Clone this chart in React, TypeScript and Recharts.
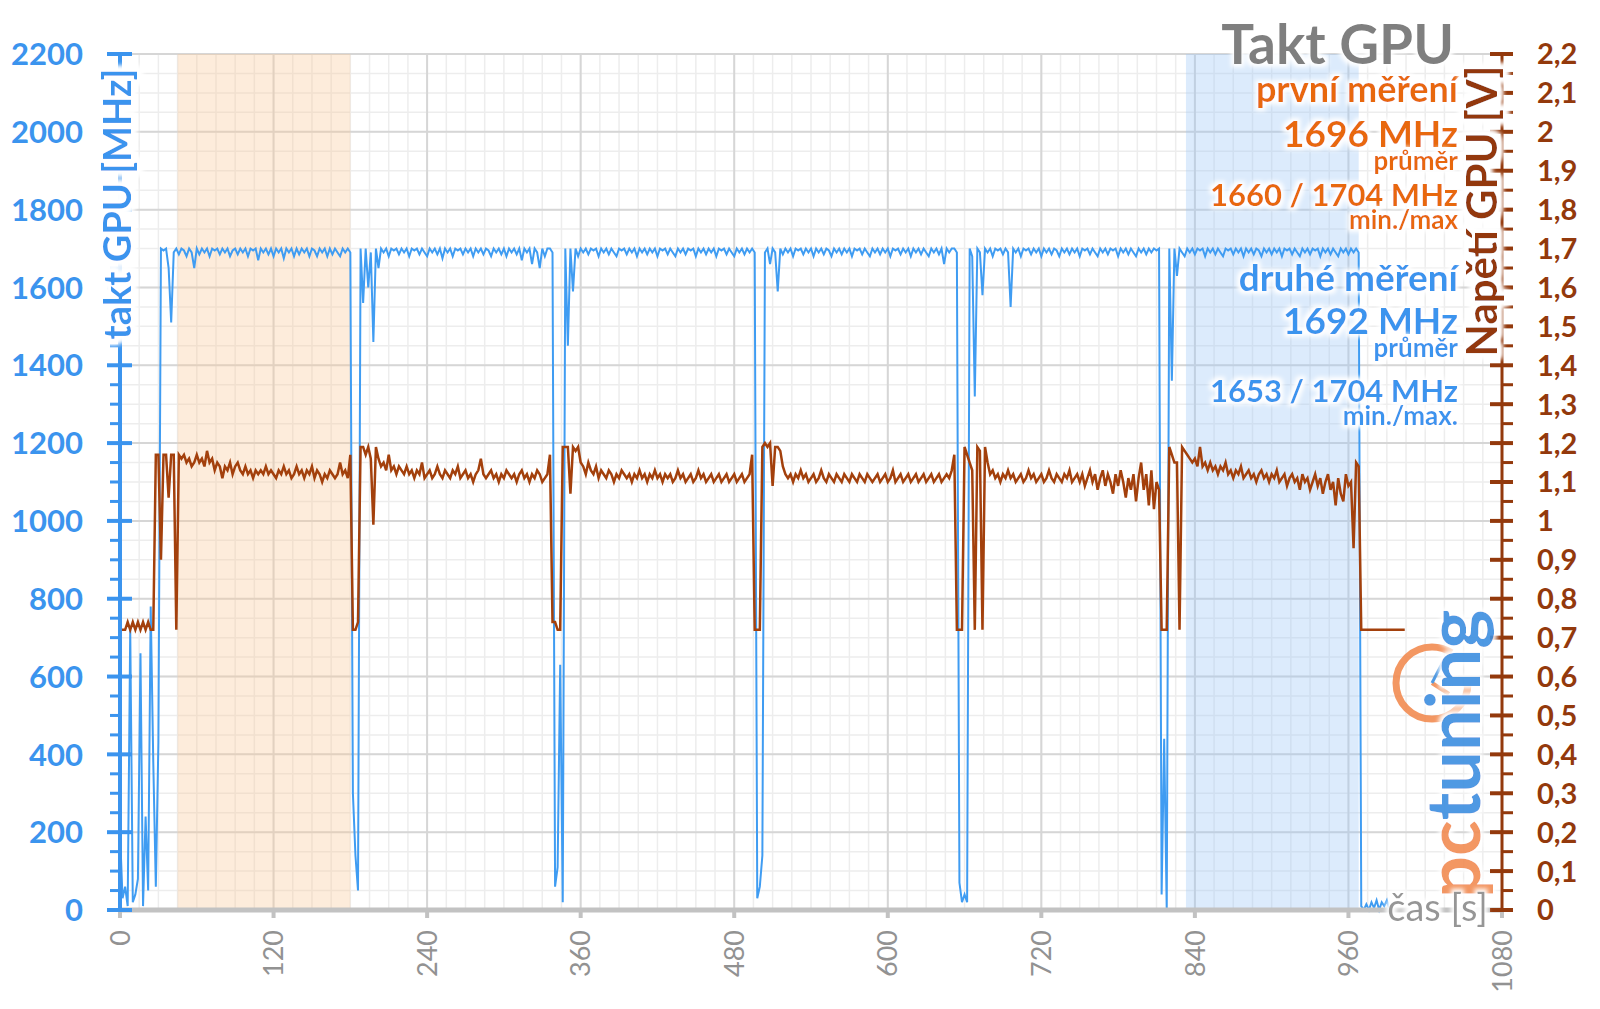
import React from 'react'
import {
  ComposedChart,
  Line,
  XAxis,
  YAxis,
  CartesianGrid,
  ReferenceArea,
} from 'recharts'

// samples every 2 s, starting at t = 0
const SAMPLE_STEP = 2

// GPU clock [MHz]
const clockIdle = [200, 30, 60, 10, 720, 20, 40, 80, 660, 10, 240, 50, 780, 380, 60, 430] // 0–30 s
const clockRun1 = [
  1700, 1695, 1700, 1650, 1510, 1690, 1700, 1685, 1700, 1695,
  1680, 1700, 1690, 1650, 1700, 1685, 1700, 1690, 1700, 1680,
  1700, 1695, 1700, 1685, 1700, 1690, 1700, 1680, 1695, 1700,
  1685, 1700, 1690, 1700, 1680, 1700, 1695, 1700, 1670, 1700,
  1690, 1700, 1685, 1700, 1680, 1700, 1690, 1700, 1675, 1700,
  1690, 1700, 1680, 1700, 1685, 1700, 1690, 1700, 1680, 1700,
  1695, 1680, 1700, 1690, 1700, 1680, 1700, 1685, 1700, 1690,
  1680, 1700, 1690, 1700, 1690,
] // 32–180 s
const clockRun2 = [
  300, 140, 50, 1700, 1560, 1700, 1600, 1690, 1460, 1700,
  1650, 1700, 1690, 1700, 1680, 1700, 1695, 1700, 1685, 1700,
  1690, 1700, 1680, 1700, 1695, 1700, 1685, 1700, 1690, 1680,
  1700, 1690, 1700, 1685, 1700, 1675, 1700, 1690, 1700, 1680,
  1700, 1695, 1700, 1685, 1700, 1690, 1700, 1680, 1700, 1690,
  1700, 1685, 1700, 1695, 1680, 1700, 1690, 1700, 1685, 1700,
  1680, 1700, 1690, 1700, 1685, 1700, 1670, 1700, 1690, 1700,
  1660, 1700, 1690, 1650, 1700, 1680, 1700, 1700,
] // 182–336 s
const clockRun3 = [
  1690, 60, 110, 630, 20, 1700, 1450, 1700, 1590, 1700,
  1680, 1700, 1690, 1700, 1685, 1700, 1695, 1700, 1680, 1700,
  1690, 1700, 1685, 1700, 1690, 1680, 1700, 1695, 1700, 1685,
  1700, 1690, 1700, 1680, 1700, 1690, 1700, 1685, 1700, 1690,
  1700, 1680, 1700, 1695, 1700, 1685, 1700, 1690, 1680, 1700,
  1690, 1700, 1685, 1700, 1695, 1700, 1680, 1700, 1690, 1700,
  1685, 1700, 1690, 1700, 1680, 1700, 1695, 1700, 1685, 1700,
  1690, 1680, 1700, 1690, 1700, 1685, 1700, 1690, 1700,
] // 338–494 s
const clockRun4 = [
  1690, 30, 60, 140, 1690, 1700, 1660, 1700, 1690, 1590,
  1700, 1685, 1700, 1690, 1700, 1680, 1700, 1695, 1700, 1685,
  1700, 1690, 1700, 1680, 1700, 1690, 1700, 1685, 1700, 1695,
  1680, 1700, 1690, 1700, 1685, 1700, 1690, 1700, 1680, 1700,
  1695, 1700, 1685, 1700, 1690, 1680, 1700, 1690, 1700, 1685,
  1700, 1690, 1700, 1680, 1700, 1695, 1700, 1685, 1700, 1690,
  1700, 1680, 1700, 1690, 1700, 1685, 1700, 1690, 1680, 1700,
  1690, 1700, 1685, 1700, 1660, 1700, 1690, 1700, 1700,
] // 496–652 s
const clockRun5 = [
  1690, 70, 20, 40, 20, 1700, 1680, 1320, 1700, 1690,
  1580, 1700, 1690, 1700, 1680, 1700, 1695, 1700, 1685, 1700,
  1690, 1550, 1700, 1690, 1700, 1680, 1700, 1695, 1700, 1685,
  1700, 1690, 1700, 1680, 1700, 1690, 1700, 1685, 1700, 1695,
  1680, 1700, 1690, 1700, 1685, 1700, 1690, 1700, 1680, 1700,
  1695, 1700, 1685, 1700, 1690, 1680, 1700, 1690, 1700, 1685,
  1700, 1695, 1700, 1680, 1700, 1690, 1700, 1685, 1700, 1690,
  1680, 1700, 1690, 1700, 1685, 1700, 1690, 1700, 1695,
] // 654–810 s
const clockRun6 = [
  1700, 40, 440, 0, 1700, 1360, 1700, 1630, 1700, 1690,
  1680, 1700, 1690, 1700, 1685, 1700, 1695, 1700, 1680, 1700,
  1690, 1700, 1685, 1700, 1690, 1680, 1700, 1695, 1700, 1685,
  1700, 1690, 1700, 1680, 1700, 1690, 1700, 1685, 1700, 1695,
  1680, 1700, 1690, 1700, 1685, 1700, 1690, 1700, 1680, 1700,
  1695, 1700, 1685, 1700, 1690, 1680, 1700, 1690, 1700, 1685,
  1700, 1695, 1700, 1680, 1700, 1690, 1700, 1685, 1700, 1690,
  1680, 1700, 1690, 1700, 1685, 1700, 1690, 1700, 1690,
] // 812–968 s
const clockTail = [10, 0, 15, 0, 20, 5, 25, 0, 20, 10, 25, 0] // 970–992 s

// GPU voltage [V]
const voltIdle = [0.72, 0.72, 0.72, 0.74, 0.72, 0.74, 0.72, 0.74, 0.72, 0.74, 0.72, 0.74, 0.72, 0.72, 1.17, 1.17]
const voltRun1 = [
  0.9, 1.17, 1.17, 1.06, 1.17, 1.17, 0.72, 1.17, 1.16, 1.17,
  1.15, 1.16, 1.14, 1.15, 1.17, 1.15, 1.16, 1.14, 1.18, 1.15,
  1.16, 1.13, 1.15, 1.14, 1.11, 1.14, 1.13, 1.15, 1.12, 1.14,
  1.15, 1.13, 1.12, 1.14, 1.12, 1.13, 1.11, 1.13, 1.12, 1.13,
  1.12, 1.14, 1.12, 1.13, 1.12, 1.11, 1.13, 1.12, 1.14, 1.12,
  1.13, 1.11, 1.12, 1.14, 1.12, 1.13, 1.11, 1.13, 1.12, 1.14,
  1.11, 1.13, 1.12, 1.1, 1.12, 1.11, 1.13, 1.12, 1.11, 1.12,
  1.15, 1.12, 1.13, 1.11, 1.17,
]
const voltRun2 = [
  0.72, 0.72, 0.74, 1.19, 1.19, 1.17, 1.19, 1.16, 0.99, 1.19,
  1.16, 1.14, 1.15, 1.13, 1.17, 1.13, 1.14, 1.12, 1.14, 1.13,
  1.12, 1.14, 1.12, 1.13, 1.11, 1.13, 1.12, 1.15, 1.11, 1.12,
  1.13, 1.11, 1.12, 1.14, 1.12, 1.11, 1.13, 1.12, 1.11, 1.13,
  1.12, 1.14, 1.11, 1.12, 1.13, 1.11, 1.12, 1.1, 1.12, 1.13,
  1.16, 1.12, 1.11, 1.12, 1.13, 1.11, 1.12, 1.1, 1.12, 1.11,
  1.13, 1.12, 1.11, 1.12, 1.1, 1.12, 1.13, 1.11, 1.12, 1.1,
  1.12, 1.11, 1.13, 1.12, 1.1, 1.11, 1.12, 1.17,
]
const voltRun3 = [
  0.74, 0.74, 0.72, 0.72, 1.19, 1.19, 1.19, 1.07, 1.19, 1.18,
  1.19, 1.15, 1.14, 1.12, 1.15, 1.13, 1.12, 1.14, 1.11, 1.13,
  1.12, 1.11, 1.13, 1.12, 1.1, 1.12, 1.11, 1.13, 1.12, 1.11,
  1.12, 1.1, 1.12, 1.11, 1.13, 1.11, 1.12, 1.1, 1.12, 1.11,
  1.13, 1.11, 1.12, 1.1, 1.12, 1.11, 1.12, 1.1, 1.11, 1.13,
  1.11, 1.12, 1.1, 1.11, 1.12, 1.1, 1.11, 1.13, 1.11, 1.12,
  1.1, 1.11, 1.12, 1.1, 1.11, 1.12, 1.1, 1.11, 1.12, 1.1,
  1.11, 1.12, 1.1, 1.11, 1.12, 1.1, 1.11, 1.12, 1.17,
]
const voltRun4 = [
  0.72, 0.72, 0.72, 1.19, 1.2, 1.19, 1.2, 1.09, 1.19, 1.19,
  1.18, 1.14, 1.12, 1.11, 1.12, 1.1, 1.12, 1.11, 1.13, 1.11,
  1.12, 1.1, 1.11, 1.12, 1.1, 1.11, 1.13, 1.11, 1.1, 1.12,
  1.11, 1.1, 1.12, 1.11, 1.1, 1.12, 1.11, 1.1, 1.12, 1.11,
  1.1, 1.12, 1.11, 1.1, 1.12, 1.11, 1.1, 1.11, 1.12, 1.1,
  1.11, 1.12, 1.1, 1.11, 1.13, 1.1, 1.11, 1.12, 1.1, 1.11,
  1.12, 1.1, 1.11, 1.12, 1.1, 1.11, 1.12, 1.1, 1.11, 1.12,
  1.1, 1.11, 1.12, 1.1, 1.11, 1.12, 1.11, 1.13, 1.17,
]
const voltRun5 = [
  0.72, 0.72, 0.72, 1.19, 1.17, 1.15, 1.13, 0.72, 1.19, 1.18,
  0.72, 1.19, 1.15, 1.12, 1.13, 1.11, 1.12, 1.1, 1.12, 1.11,
  1.13, 1.11, 1.12, 1.1, 1.11, 1.12, 1.1, 1.11, 1.13, 1.11,
  1.12, 1.1, 1.11, 1.12, 1.1, 1.11, 1.13, 1.11, 1.1, 1.12,
  1.11, 1.1, 1.12, 1.11, 1.13, 1.1, 1.11, 1.12, 1.1, 1.12,
  1.09, 1.11, 1.13, 1.1, 1.12, 1.08, 1.11, 1.13, 1.09, 1.12,
  1.1, 1.07, 1.12, 1.09, 1.13, 1.1, 1.06, 1.11, 1.08, 1.12,
  1.05, 1.11, 1.15, 1.08, 1.12, 1.04, 1.13, 1.03, 1.1,
]
const voltRun6 = [
  1.08, 0.72, 0.72, 0.72, 1.19, 1.17, 1.15, 1.15, 0.72, 1.19,
  1.18, 1.17, 1.16, 1.15, 1.16, 1.14, 1.19, 1.14, 1.15, 1.13,
  1.15, 1.13, 1.14, 1.12, 1.14, 1.13, 1.15, 1.12, 1.13, 1.11,
  1.13, 1.12, 1.14, 1.11, 1.12, 1.13, 1.11, 1.12, 1.1, 1.12,
  1.13, 1.11, 1.12, 1.1, 1.12, 1.11, 1.13, 1.1, 1.11, 1.12,
  1.09, 1.11, 1.12, 1.1, 1.11, 1.08, 1.12, 1.1, 1.11, 1.08,
  1.1, 1.12, 1.09, 1.11, 1.07, 1.1, 1.12, 1.08, 1.1, 1.04,
  1.11, 1.07, 1.05, 1.12, 1.09, 1.1, 0.93, 1.15, 1.14,
]
const voltTail = [0.72, 0.72, 0.72, 0.72, 0.72, 0.72, 0.72, 0.72, 0.72, 0.72, 0.72, 0.72, 0.72, 0.72, 0.72, 0.72, 0.72, 0.72]

const clockMHz = [...clockIdle, ...clockRun1, ...clockRun2, ...clockRun3, ...clockRun4, ...clockRun5, ...clockRun6, ...clockTail]
const voltage = [...voltIdle, ...voltRun1, ...voltRun2, ...voltRun3, ...voltRun4, ...voltRun5, ...voltRun6, ...voltTail]

const timeTicks = [0, 120, 240, 360, 480, 600, 720, 840, 960, 1080]
const clockTicks = [0, 200, 400, 600, 800, 1000, 1200, 1400, 1600, 1800, 2000, 2200]
const voltTicks = [0, 0.1, 0.2, 0.3, 0.4, 0.5, 0.6, 0.7, 0.8, 0.9, 1, 1.1, 1.2, 1.3, 1.4, 1.5, 1.6, 1.7, 1.8, 1.9, 2, 2.1, 2.2]

// highlighted windows [s]
const firstRun = [45, 180]
const secondRun = [833, 968]

const BLUE = '#3b94ee'
const BLUE_LINE = '#3f9cf2'
const BROWN = '#93390c'
const BROWN_LINE = '#a3400c'
const ORANGE = '#e8680f'
const FONT = "Lato, 'Open Sans', sans-serif"

const data = voltage.map((v, i) => ({
  t: i * SAMPLE_STEP,
  mhz: i < clockMHz.length ? clockMHz[i] : null,
  v,
}))

const minorTimes = Array.from({ length: 73 }, (_, i) => i * 15)
const minorClock = Array.from({ length: 45 }, (_, i) => i * 50)
const minorVolt = Array.from({ length: 45 }, (_, i) => Math.round(i * 5) / 100)
const isMajorVolt = (v: number) => voltTicks.some((m) => Math.abs(m - v) < 1e-6)

function TimeTick(props: any) {
  const { x, payload } = props
  const y = 930
  return (
    <text
      x={x}
      y={y}
      dy="0.36em"
      transform={`rotate(-90 ${x} ${y})`}
      textAnchor="end"
      fontFamily={FONT}
      fontSize={27}
      fill="#929292"
    >
      {payload.value}
    </text>
  )
}

function ClockTick(props: any) {
  const { y, payload } = props
  const v = payload.value
  const major = clockTicks.includes(v)
  return (
    <g>
      <line x1={major ? 107 : 110} x2={major ? 132 : 120} y1={y} y2={y} stroke={BLUE} strokeWidth={major ? 4 : 3} />
      {major && (
        <text x={83} y={y} dy="0.36em" textAnchor="end" fontFamily={FONT} fontWeight={700} fontSize={31} fill={BLUE}>
          {v}
        </text>
      )}
    </g>
  )
}

function VoltTick(props: any) {
  const { y, payload } = props
  const v = payload.value
  const major = isMajorVolt(v)
  return (
    <g>
      <line x1={major ? 1490 : 1502} x2={1513} y1={y} y2={y} stroke={BROWN} strokeWidth={major ? 4 : 3} />
      {major && (
        <text x={1537} y={y} dy="0.36em" textAnchor="start" fontFamily={FONT} fontWeight={700} fontSize={29} fill={BROWN}>
          {String(Math.round(v * 10) / 10).replace('.', ',')}
        </text>
      )}
    </g>
  )
}

function Overlay() {
  const t = (x: number, y: number, size: number, color: string, text: string, weight = 700) => (
    <text x={x} y={y} textAnchor="end" fontFamily={FONT} fontWeight={weight} fontSize={size} fill={color} filter="url(#glow)">
      {text}
    </text>
  )
  return (
    <svg width={1600} height={1009} style={{ position: 'absolute', left: 0, top: 0, pointerEvents: 'none' }}>
      <defs>
        <filter id="glow" x="-20%" y="-30%" width="140%" height="160%">
          <feMorphology in="SourceAlpha" operator="dilate" radius="3" result="d" />
          <feGaussianBlur in="d" stdDeviation="2" result="b" />
          <feFlood floodColor="#ffffff" />
          <feComposite in2="b" operator="in" result="g" />
          <feMerge>
            <feMergeNode in="g" />
            <feMergeNode in="SourceGraphic" />
          </feMerge>
        </filter>
        <filter id="glowWide" x="-20%" y="-40%" width="140%" height="180%">
          <feMorphology in="SourceAlpha" operator="dilate" radius="5" result="d" />
          <feGaussianBlur in="d" stdDeviation="2.5" result="b" />
          <feFlood floodColor="#ffffff" />
          <feComposite in2="b" operator="in" result="g" />
          <feMerge>
            <feMergeNode in="g" />
            <feMergeNode in="g" />
            <feMergeNode in="SourceGraphic" />
          </feMerge>
        </filter>
      </defs>
      {t(1454, 64, 55, '#7f7f7f', 'Takt GPU')}
      {t(1458, 102, 36, ORANGE, 'první měření')}
      {t(1458, 147, 37, ORANGE, '1696 MHz')}
      {t(1458, 170, 26, ORANGE, 'průměr')}
      {t(1458, 206, 31, ORANGE, '1660 / 1704 MHz')}
      {t(1458, 229, 26, ORANGE, 'min./max')}
      {t(1458, 291, 37, BLUE, 'druhé měření')}
      {t(1458, 334, 37, BLUE, '1692 MHz')}
      {t(1458, 357, 26, BLUE, 'průměr')}
      {t(1458, 402, 31, BLUE, '1653 / 1704 MHz')}
      {t(1458, 425, 26, BLUE, 'min./max.')}

      <text x={131} y={204} transform="rotate(-90 131 204)" textAnchor="middle" fontFamily={FONT} fontWeight={700} fontSize={38} fill={BLUE} filter="url(#glowWide)">
        takt GPU [MHz]
      </text>
      <text x={1497} y={211} transform="rotate(-90 1497 211)" textAnchor="middle" fontFamily={FONT} fontWeight={700} fontSize={42} fill={BROWN} filter="url(#glowWide)">
        Napětí GPU [V]
      </text>

      <g opacity={0.9}>
        <circle cx={1432} cy={683} r={36} fill="none" stroke="#f28c52" strokeWidth={7} strokeDasharray="190 36" />
        <line x1={1432} y1={683} x2={1449} y2={694} stroke="#f28c52" strokeWidth={4} />
        <line x1={1432} y1={683} x2={1446} y2={656} stroke="#3d8fe0" strokeWidth={3} />
        <text x={1480} y={898} transform="rotate(-90 1480 898)" fontFamily={FONT} fontWeight={700} fontSize={74} filter="url(#glow)">
          <tspan fill="#f28c52">pc</tspan>
          <tspan fill="#3d8fe0">tuning</tspan>
        </text>
      </g>

      {t(1488, 921, 38, '#969696', 'čas [s]', 400)}
    </svg>
  )
}

export default function App() {
  return (
    <div style={{ position: 'absolute', left: 0, top: 0, width: 1600, height: 1009, background: '#fff' }}>
      <ComposedChart width={1600} height={1009} data={data} margin={{ top: 54, right: 0, bottom: 0, left: 0 }}>
        <CartesianGrid yAxisId="mhz" verticalValues={minorTimes} horizontalValues={minorClock} stroke="#ededed" strokeWidth={1.5} />
        <CartesianGrid yAxisId="mhz" verticalValues={timeTicks} horizontalValues={clockTicks} stroke="#d6d6d6" strokeWidth={2} />
        <ReferenceArea yAxisId="mhz" x1={firstRun[0]} x2={firstRun[1]} y1={0} y2={2200} fill="#f8c999" fillOpacity={0.35} stroke="none" />
        <ReferenceArea yAxisId="mhz" x1={secondRun[0]} x2={secondRun[1]} y1={0} y2={2200} fill="#9cc6f5" fillOpacity={0.35} stroke="none" />
        <XAxis
          dataKey="t"
          type="number"
          domain={[0, 1080]}
          ticks={timeTicks}
          interval={0}
          height={99}
          tick={<TimeTick />}
          tickSize={8}
          tickLine={{ stroke: '#c2c2c2', strokeWidth: 4 }}
          axisLine={{ stroke: '#c2c2c2', strokeWidth: 5 }}
        />
        <YAxis
          yAxisId="mhz"
          domain={[0, 2200]}
          ticks={minorClock}
          interval={0}
          width={120}
          tick={<ClockTick />}
          tickLine={false}
          axisLine={{ stroke: BLUE, strokeWidth: 4 }}
        />
        <YAxis
          yAxisId="v"
          orientation="right"
          domain={[0, 2.2]}
          ticks={minorVolt}
          interval={0}
          width={98}
          tick={<VoltTick />}
          tickLine={false}
          axisLine={{ stroke: BROWN, strokeWidth: 3 }}
        />
        <Line yAxisId="mhz" dataKey="mhz" stroke={BLUE_LINE} strokeWidth={2} dot={false} isAnimationActive={false} />
        <Line yAxisId="v" dataKey="v" stroke={BROWN_LINE} strokeWidth={2.5} dot={false} isAnimationActive={false} />
      </ComposedChart>
      <Overlay />
    </div>
  )
}
